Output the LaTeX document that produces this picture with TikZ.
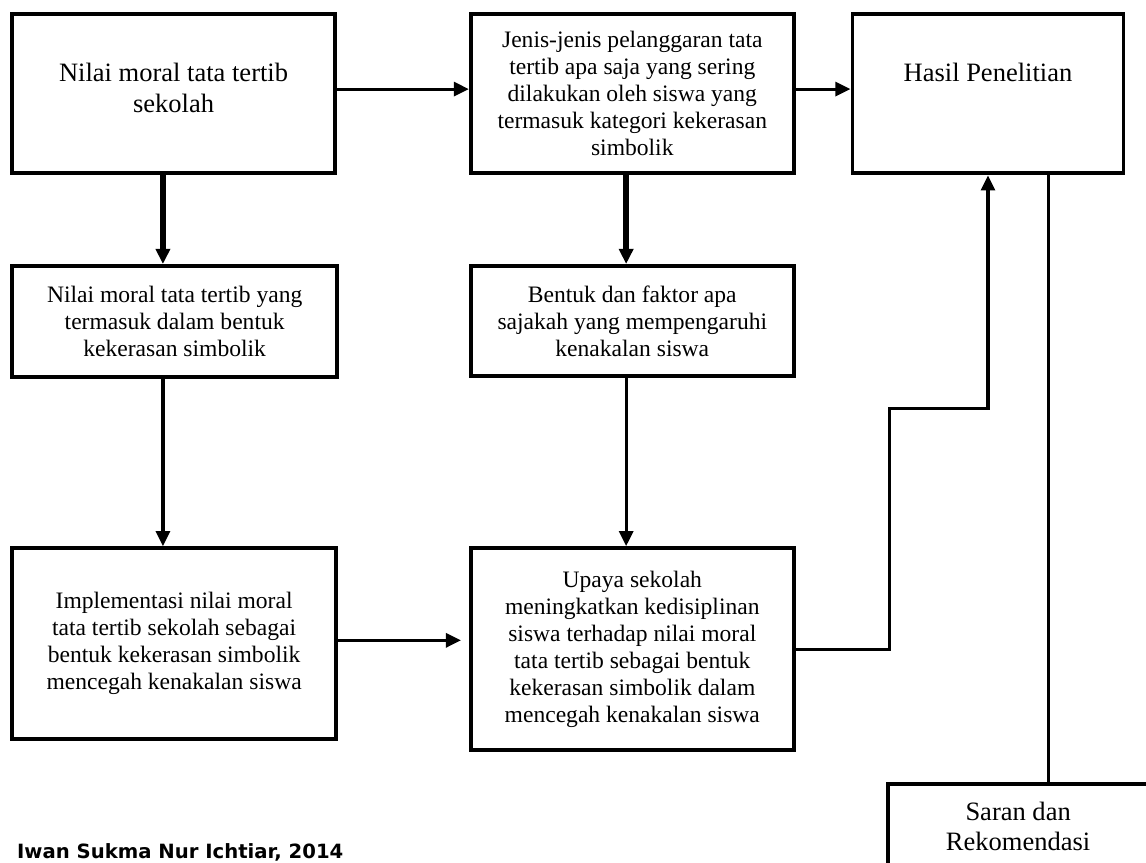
\documentclass[tikz,border=0pt]{standalone}
\usepackage{fontspec}
\setmainfont{Liberation Serif}
\newfontfamily\notefont{DejaVu Sans}
\usepackage{xcolor}
\usepackage{tikz}
\usetikzlibrary{positioning,arrows.meta,calc}
\definecolor{FlowInk}{HTML}{000000}
\tikzset{
  flowbox/.style={draw=FlowInk, line width=2pt, align=center, inner sep=2pt, font=\fontsize{12}{13.8}\selectfont, text=FlowInk},
  bigbox/.style={flowbox, font=\fontsize{13.5}{15.5}\selectfont},
  flowarr/.style={-{Triangle[length=0.27cm, width=0.25cm]}, line width=1.6pt, draw=FlowInk},
  heavyarr/.style={flowarr, line width=2.8pt},
  flowline/.style={line width=1.6pt, draw=FlowInk}
}

\begin{document}
\begin{tikzpicture}
  \useasboundingbox (0,0) rectangle (20.51,-15.43);
  \node[bigbox, minimum width=5.78cm, minimum height=2.85cm, text depth=0.2cm] (a) at (3.106,-1.674) {Nilai moral tata tertib\\sekolah};
  \node[flowbox, minimum width=5.78cm, minimum height=2.85cm, right=2.36cm of a] (b) {Jenis-jenis pelanggaran tata\\tertib apa saja yang sering\\dilakukan oleh siswa yang\\termasuk kategori kekerasan\\simbolik};
  \node[bigbox, minimum width=4.85cm, minimum height=2.86cm, inner sep=0pt, text depth=0.75cm, right=0.98cm of b] (c) {Hasil Penelitian};
  \node[flowbox, minimum width=5.82cm, minimum height=1.99cm, below=1.59cm of a.south west, anchor=north west] (d) {Nilai moral tata tertib yang\\termasuk dalam bentuk\\kekerasan simbolik};
  \node[flowbox, minimum width=5.78cm, minimum height=1.97cm, below=1.59cm of b] (e) {Bentuk dan faktor apa\\sajakah yang mempengaruhi\\kenakalan siswa};
  \node[flowbox, minimum width=5.80cm, minimum height=3.42cm, below=2.99cm of d.south west, anchor=north west] (f) {Implementasi nilai moral\\tata tertib sekolah sebagai\\bentuk kekerasan simbolik\\mencegah kenakalan siswa};
  \node[flowbox, minimum width=5.78cm, minimum height=3.62cm, below=3.01cm of e] (g) {Upaya sekolah\\meningkatkan kedisiplinan\\siswa terhadap nilai moral\\tata tertib sebagai bentuk\\kekerasan simbolik dalam\\mencegah kenakalan siswa};
  \node[bigbox, minimum width=4.65cm, minimum height=1.54cm, below right=10.85cm and 0.64cm of c.south west, anchor=north west] (h) {Saran dan\\Rekomendasi};
  \node[anchor=base west, inner sep=0pt, font=\notefont\bfseries\fontsize{10}{12}\selectfont] (note) at (0.3,-15.37) {Iwan Sukma Nur Ichtiar, 2014};
  \draw[flowarr] ([yshift=0.08cm]a.east) -- ([yshift=0.08cm]a.east -| b.west); \draw[flowarr] ([yshift=0.08cm]b.east) -- ([yshift=0.08cm]b.east -| c.west);
  \draw[heavyarr] ([xshift=-0.19cm]a.south) -- ([xshift=-0.19cm]a.south |- d.north); \draw[heavyarr] ([xshift=-0.11cm]b.south) -- ([xshift=-0.11cm]b.south |- e.north);
  \draw[flowarr] ([xshift=-0.21cm]d.south) -- ([xshift=-0.21cm]d.south |- f.north); \draw[flowarr] ([xshift=-0.11cm]e.south) -- ([xshift=-0.11cm]e.south |- g.north);
  \draw[flowarr, shorten >=0.14cm] ([yshift=0.06cm]f.east) -- ([yshift=0.06cm]f.east -| g.west);
  \draw[flowarr] (g.east) -- ++(1.68,0) |- ([yshift=-4.17cm]c.south) -- (c.south);
  \draw[flowline] ([xshift=1.09cm]c.south) -- ([xshift=1.09cm]c.south |- h.north);
\end{tikzpicture}
\end{document}
